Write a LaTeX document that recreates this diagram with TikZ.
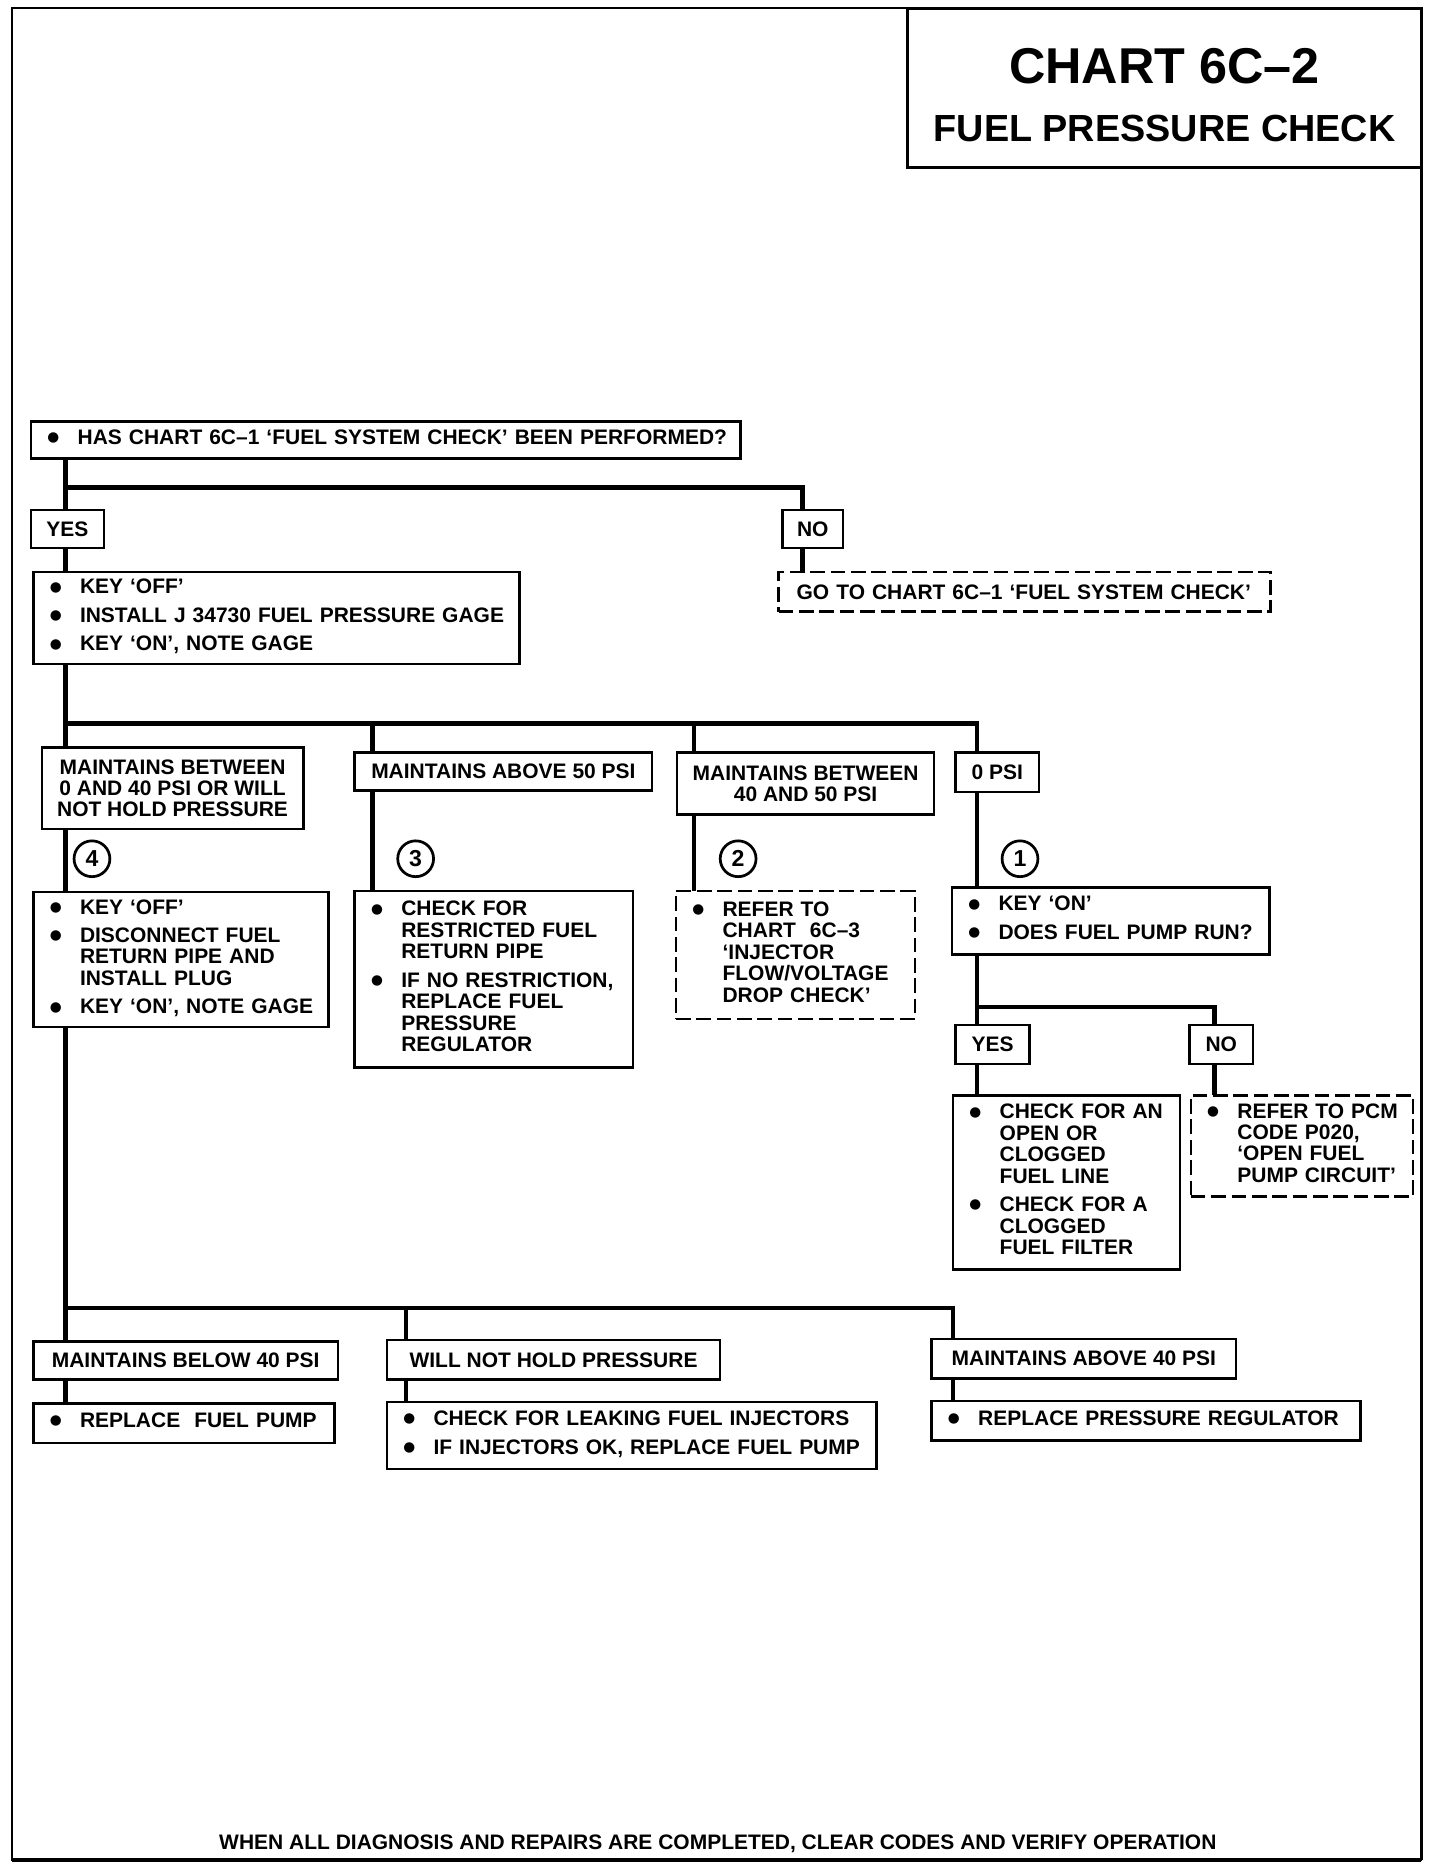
\documentclass[tikz,border=0pt]{standalone}
\usepackage{fontspec}
\setmainfont{Liberation Sans}
\newfontfamily\dotfont{DejaVu Sans}
\newcommand{\bul}{\makebox[0.52cm][l]{\hspace{0.4pt}\raisebox{1.3pt}{\dotfont\fontsize{6.5}{6.5}\selectfont ●}}}
\newcommand{\itemlist}[1]{\begin{tabular}{@{}l@{}l@{}}#1\end{tabular}}
\begin{document}
\begin{tikzpicture}[x=0.02cm,y=-0.02cm,inner sep=0pt,outer sep=0pt,
font=\fontsize{10}{10.2}\selectfont\bfseries,
chartbox/.style={draw,rectangle,line width=1.2pt,anchor=north west,inner xsep=0.26cm,align=left},
dashbox/.style={chartbox,dash pattern=on 7pt off 2.7pt},
labelbox/.style={draw,rectangle,line width=1.2pt,anchor=north west,align=center},
stepnum/.style={draw,circle,line width=1.3pt,minimum size=0.6cm,font=\fontsize{11}{11}\selectfont\bfseries},
flow/.style={line width=2.2pt}]
\useasboundingbox (0,0) rectangle (1206,1564);
% frame and title
\draw[line width=1pt] (10,7) rectangle (1190,1557);
\draw[line width=1.6pt] (1190,7) -- (1190,1557);
\draw[line width=1.8pt] (10,1557) -- (1190,1557);
\node[draw,rectangle,line width=1.5pt,anchor=north east,minimum width=8.6cm,minimum height=2.66cm] (titlebox) at (1190,7) {};
\node[font=\fontsize{24}{24}\selectfont\bfseries] (chartno) at (975,55) {CHART 6C--2};
\node[font=\fontsize{18}{18}\selectfont\bfseries] (charttitle) at (975,108) {FUEL PRESSURE CHECK};

% first question
\node[chartbox,text width=11.36cm,minimum height=0.62cm] (perf) at (26,353) {\itemlist{\bul & HAS CHART 6C--1 `FUEL SYSTEM CHECK' BEEN PERFORMED?}};
\node[labelbox,minimum width=1.22cm,minimum height=0.64cm] (yes) at (26,427) {YES};
\node[labelbox,minimum width=1.02cm,minimum height=0.64cm] (no) at (655,427) {NO};
\node[chartbox,text width=7.62cm,minimum height=1.54cm] (keyoff) at (28,479) {\itemlist{\bul & KEY `OFF'\\[3.4pt] \bul & INSTALL J 34730 FUEL PRESSURE GAGE\\[3.4pt] \bul & KEY `ON', NOTE GAGE}};
\node[dashbox,inner xsep=0.3cm,text width=7.64cm,minimum height=0.66cm] (goto) at (652,479) {\mbox{GO TO CHART 6C--1 `FUEL SYSTEM CHECK'}};

% gage readings
\node[labelbox,minimum width=4.38cm,minimum height=1.36cm] (between040) at (35,626) {MAINTAINS BETWEEN\\0 AND 40 PSI OR WILL\\NOT HOLD PRESSURE};
\node[labelbox,minimum width=4.98cm,minimum height=0.64cm] (above50) at (297,630) {MAINTAINS ABOVE 50 PSI};
\node[labelbox,minimum width=4.30cm,minimum height=1.04cm] (between4050) at (567,630) {MAINTAINS BETWEEN\\40 AND 50 PSI};
\node[labelbox,minimum width=1.40cm,minimum height=0.66cm] (zero) at (800,630) {0 PSI};
\node[stepnum] (step4) at (77,719) {4};
\node[stepnum] (step3) at (348,719) {3};
\node[stepnum] (step2) at (618,719) {2};
\node[stepnum] (step1) at (854,719) {1};

\node[chartbox,text width=4.42cm,minimum height=2.26cm] (ret) at (28,747) {\itemlist{\bul & KEY `OFF'\\[3.4pt] \bul & DISCONNECT FUEL\\ & RETURN PIPE AND\\ & INSTALL PLUG\\[3.4pt] \bul & KEY `ON', NOTE GAGE}};
\node[chartbox,text width=4.14cm,minimum height=2.96cm] (restr) at (297,746) {\itemlist{\bul & CHECK FOR\\ & RESTRICTED FUEL\\ & RETURN PIPE\\[3.4pt] \bul & IF NO RESTRICTION,\\ & REPLACE FUEL\\ & PRESSURE\\ & REGULATOR}};
\node[dashbox,text width=3.48cm,minimum height=2.14cm] (injchk) at (566,746) {\itemlist{\bul & REFER TO\\ & CHART\ \ 6C--3\\ & `INJECTOR\\ & FLOW/VOLTAGE\\ & DROP CHECK'}};
\node[chartbox,text width=4.80cm,minimum height=1.12cm] (pumprun) at (797,743) {\itemlist{\bul & KEY `ON'\\[3.4pt] \bul & DOES FUEL PUMP RUN?}};

% fuel pump
\node[labelbox,minimum width=1.24cm,minimum height=0.66cm] (pumpyes) at (800,858) {YES};
\node[labelbox,minimum width=1.06cm,minimum height=0.66cm] (pumpno) at (996,858) {NO};
\node[chartbox,text width=3.28cm,minimum height=2.92cm] (clogged) at (798,917) {\itemlist{\bul & CHECK FOR AN\\ & OPEN OR\\ & CLOGGED\\ & FUEL LINE\\[3.4pt] \bul & CHECK FOR A\\ & CLOGGED\\ & FUEL FILTER}};
\node[dashbox,text width=3.20cm,minimum height=1.70cm] (pcm) at (997,917) {\itemlist{\bul & REFER TO PCM\\ & CODE P020,\\ & `OPEN FUEL\\ & PUMP CIRCUIT'}};

% return line plugged
\node[labelbox,minimum width=5.10cm,minimum height=0.64cm] (below40) at (28,1123) {MAINTAINS BELOW 40 PSI};
\node[labelbox,minimum width=5.58cm,minimum height=0.66cm] (nohold) at (324,1122) {WILL NOT HOLD PRESSURE};
\node[labelbox,minimum width=5.10cm,minimum height=0.66cm] (above40) at (780,1121) {MAINTAINS ABOVE 40 PSI};
\node[chartbox,text width=4.52cm,minimum height=0.66cm] (replpump) at (28,1175) {\itemlist{\bul & REPLACE\ \ FUEL PUMP}};
\node[chartbox,text width=7.68cm,minimum height=1.12cm] (leak) at (324,1174) {\itemlist{\bul & CHECK FOR LEAKING FUEL INJECTORS\\[3.4pt] \bul & IF INJECTORS OK, REPLACE FUEL PUMP}};
\node[chartbox,text width=6.66cm,minimum height=0.66cm] (replreg) at (780,1173) {\itemlist{\bul & REPLACE PRESSURE REGULATOR}};

\node (footer) at (601,1544) {WHEN ALL DIAGNOSIS AND REPAIRS ARE COMPLETED, CLEAR CODES AND VERIFY OPERATION};

% connectors
\coordinate (qsplit) at (55,408);
\coordinate (qno) at (672,408);
\draw[flow] (qsplit |- perf.south) -- (qsplit) -- (qno) -- (qno |- no.north);
\draw[flow] (qsplit) -- (qsplit |- yes.north);
\draw[flow] (qsplit |- yes.south) -- (qsplit |- keyoff.north);
\draw[flow] (qno |- no.south) -- (qno |- goto.north);

\coordinate (g1) at (55,606);
\coordinate (g2) at (312,606);
\coordinate (g3) at (581,606);
\coordinate (g4) at (818,606);
\draw[flow] (g1 |- keyoff.south) -- (g1) -- (g4) -- (g4 |- zero.north);
\draw[flow] (g1) -- (g1 |- between040.north);
\draw[flow] (g2) -- (g2 |- above50.north);
\draw[flow] (g3) -- (g3 |- between4050.north);
\draw[flow] (g1 |- between040.south) -- (g1 |- ret.north);
\draw[flow] (g2 |- above50.south) -- (g2 |- restr.north);
\draw[flow] (g3 |- between4050.south) -- (g3 |- injchk.north);
\draw[flow] (g4 |- zero.south) -- (g4 |- pumprun.north);

\coordinate (p1) at (818,843);
\coordinate (p2) at (1017,843);
\draw[flow] (p1 |- pumprun.south) -- (p1) -- (p2) -- (p2 |- pumpno.north);
\draw[flow] (p1) -- (p1 |- pumpyes.north);
\draw[flow] (p1 |- pumpyes.south) -- (p1 |- clogged.north);
\draw[flow] (p2 |- pumpno.south) -- (p2 |- pcm.north);

\coordinate (r1) at (55,1095);
\coordinate (r2) at (340,1095);
\coordinate (r3) at (798,1095);
\draw[flow] (g1 |- ret.south) -- (r1) -- (r3) -- (r3 |- above40.north);
\draw[flow] (r1) -- (r1 |- below40.north);
\draw[flow] (r2) -- (r2 |- nohold.north);
\draw[flow] (r1 |- below40.south) -- (r1 |- replpump.north);
\draw[flow] (r2 |- nohold.south) -- (r2 |- leak.north);
\draw[flow] (r3 |- above40.south) -- (r3 |- replreg.north);
\end{tikzpicture}
\end{document}
